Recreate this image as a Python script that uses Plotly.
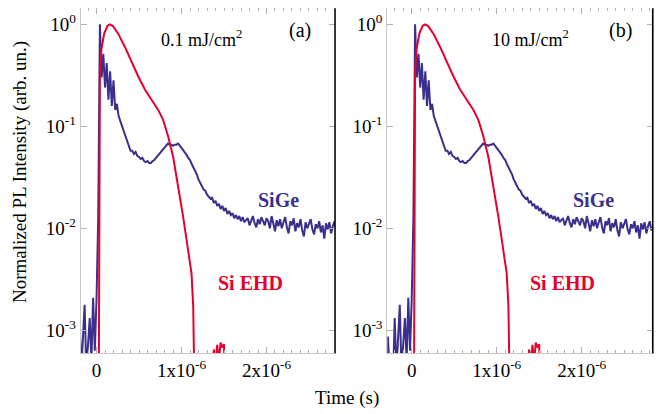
import numpy as np
import plotly.graph_objects as go

# time base of the SiGe trace (microseconds), 20 ns sampling
t_start_us = -0.30
t_step_us = 0.02

# SiGe PL, log10 of the normalized intensity
sige_log10 = [
    -3.40, -3.06, -3.40, -3.30, -3.50, -2.88, -3.40, -3.03, -2.75, -3.40,
    -3.10, -2.88, -3.30, -2.68, -3.20, -2.70, -1.90, 0.00, -0.52, -0.29,
    -0.62, -0.38, -0.74, -0.46, -0.80, -0.55, -0.84, -0.78, -0.90, -0.95,
    -1.01, -1.06, -1.10, -1.16, -1.19, -1.24, -1.24, -1.27, -1.25, -1.29,
    -1.30, -1.32, -1.31, -1.34, -1.35, -1.34, -1.36, -1.36, -1.34, -1.33,
    -1.31, -1.29, -1.27, -1.25, -1.22, -1.20, -1.18, -1.17, -1.18, -1.18,
    -1.19, -1.18, -1.18, -1.17, -1.19, -1.21, -1.23, -1.25, -1.28, -1.31,
    -1.33, -1.37, -1.40, -1.44, -1.47, -1.52, -1.55, -1.58, -1.62, -1.63,
    -1.67, -1.69, -1.71, -1.70, -1.75, -1.73, -1.78, -1.76, -1.81, -1.78,
    -1.83, -1.80, -1.86, -1.83, -1.87, -1.85, -1.90, -1.87, -1.91, -1.88,
    -1.93, -1.89, -1.94, -1.92, -1.90, -1.97, -1.93, -1.88, -1.95, -1.99,
    -1.91, -1.96, -1.89, -1.94, -1.97, -1.90, -1.93, -2.00, -1.88, -1.95,
    -2.03, -1.92, -1.98, -1.91, -2.00, -1.94, -1.89, -1.99, -2.05, -1.93,
    -1.97, -1.90, -2.03, -1.95, -1.99, -1.91, -2.02, -2.08, -1.94, -2.00,
    -1.95, -1.91, -2.01, -2.06, -1.96, -2.00, -1.93, -2.04, -1.97, -2.10,
    -1.95, -2.01, -1.94, -2.05, -1.98, -1.93, -2.02, -1.98,
]

# Si EHD PL (microseconds, normalized intensity)
ehd_t_us = [
    0.025, 0.035, 0.04, 0.059, 0.09, 0.129, 0.158, 0.196, 0.255, 0.334,
    0.412, 0.49, 0.569, 0.647, 0.726, 0.785, 0.844, 0.902, 0.961, 1.02,
    1.059, 1.079, 1.118, 1.138, 1.149, 1.16, 1.36, 1.38, 1.40, 1.42,
    1.44, 1.46, 1.48, 1.50, 1.52, 2.90,
]
ehd_int = [
    1e-4, 0.30, 0.34, 0.58, 0.81, 0.97, 1.0, 0.955, 0.81, 0.60,
    0.43, 0.31, 0.23, 0.18, 0.145, 0.115, 0.079, 0.05, 0.026, 0.0129,
    0.0078, 0.0062, 0.0036, 0.0017, 0.0005, 1e-4, 1e-4, 6.5e-4, 4.0e-4, 7.2e-4,
    5.0e-4, 7.6e-4, 6.8e-4, 7.3e-4, 1e-4, 1e-4,
]

panels = ["(a)", "(b)"]
fluences = ["0.1 mJ/cm<sup>2</sup>", "10 mJ/cm<sup>2</sup>"]
x_ranges_us = [[-0.186, 2.806], [-0.287, 2.835]]
y_ticks = [1e-3, 1e-2, 1e-1, 1]
y_ticktext = ["10<sup>-3</sup>", "10<sup>-2</sup>", "10<sup>-1</sup>", "10<sup>0</sup>"]
x_ticks = [0, 1e-6, 2e-6]
x_ticktext = ["0", "1x10<sup>-6</sup>", "2x10<sup>-6</sup>"]

blue = "#3a2f8c"
red = "#e6002e"
font = "Liberation Serif, Times New Roman, serif"

sige_t = np.array([t_start_us + i * t_step_us for i in range(len(sige_log10))]) * 1e-6
sige_y = 10 ** np.array(sige_log10)
ehd_t = np.array(ehd_t_us) * 1e-6

# the page body adds an 8px offset, so work in window pixels and shift back
OFF = 8
W, H = 665 - OFF, 414 - OFF


def px(x):
    return (x - OFF) / W


def py(y):
    return 1 - (y - OFF) / H


x_doms = [[px(80.7), px(335)], [px(387.3), px(652.7)]]
y_dom = [py(353.3), py(8.3)]

fig = go.Figure()
for i in range(2):
    xa = "x" if i == 0 else "x2"
    ya = "y" if i == 0 else "y2"
    fig.add_trace(go.Scatter(x=sige_t, y=sige_y, mode="lines",
                             line=dict(color=blue, width=2), xaxis=xa, yaxis=ya,
                             showlegend=False))
    fig.add_trace(go.Scatter(x=ehd_t, y=ehd_int, mode="lines",
                             line=dict(color=red, width=2), xaxis=xa, yaxis=ya,
                             showlegend=False))

axis_common = dict(showgrid=False, zeroline=False, showline=True, linecolor="#c8c8c8",
                   linewidth=1, mirror="ticks", ticks="inside", tickcolor="#b0b0b0",
                   automargin=False,
                   tickfont=dict(family=font, size=19, color="black"))

lab_x = {"flu": [201, 530], "pan": [300, 620], "sige": [278.5, 593], "ehd": [250, 562.5]}

for i in range(2):
    sfx = "" if i == 0 else "2"
    fig.layout["xaxis" + sfx] = dict(
        axis_common, domain=x_doms[i], anchor="y" + sfx,
        range=[x_ranges_us[i][0] * 1e-6, x_ranges_us[i][1] * 1e-6],
        tickmode="array", tickvals=x_ticks, ticktext=x_ticktext, ticklen=6,
        minor=dict(dtick=1e-7, tick0=0, ticks="inside", ticklen=3, tickcolor="#b0b0b0"),
    )
    fig.layout["yaxis" + sfx] = dict(
        axis_common, domain=y_dom, anchor="x" + sfx, type="log",
        range=[-3.225, 0.157], tickmode="array", tickvals=y_ticks,
        ticktext=y_ticktext, ticklen=6,
    )
    # black right frame edge
    fig.add_shape(type="line", xref="x" + sfx + " domain", yref="y" + sfx + " domain",
                  x0=1, x1=1, y0=0, y1=1, line=dict(color="black", width=1.5))

    ann = dict(xref="paper", yref="paper", showarrow=False, xanchor="center", yanchor="middle")
    fig.add_annotation(text=fluences[i], x=px(lab_x["flu"][i]), y=py(38),
                       font=dict(family=font, size=18, color="black"), **ann)
    fig.add_annotation(text=panels[i], x=px(lab_x["pan"][i]), y=py(31),
                       font=dict(family=font, size=20, color="black"), **ann)
    fig.add_annotation(text="<b>SiGe</b>", x=px(lab_x["sige"][i]), y=py(200),
                       font=dict(family=font, size=20, color=blue), **ann)
    fig.add_annotation(text="<b>Si EHD</b>", x=px(lab_x["ehd"][i]), y=py(283),
                       font=dict(family=font, size=20, color=red), **ann)

fig.add_annotation(text="Time (s)", xref="paper", yref="paper", x=px(346.5), y=py(398),
                   xanchor="center", yanchor="middle",
                   showarrow=False, font=dict(family=font, size=19, color="black"))
fig.add_annotation(text="Normalized PL Intensity (arb. un.)", xref="paper", yref="paper",
                   x=px(20), y=py(172), textangle=-90, xanchor="center", yanchor="middle",
                   showarrow=False, font=dict(family=font, size=19, color="black"))

fig.update_layout(template="none", width=W, height=H,
                  margin=dict(l=0, r=0, t=0, b=0, autoexpand=False),
                  paper_bgcolor="white", plot_bgcolor="white", showlegend=False)

fig.write_html("out.html")
